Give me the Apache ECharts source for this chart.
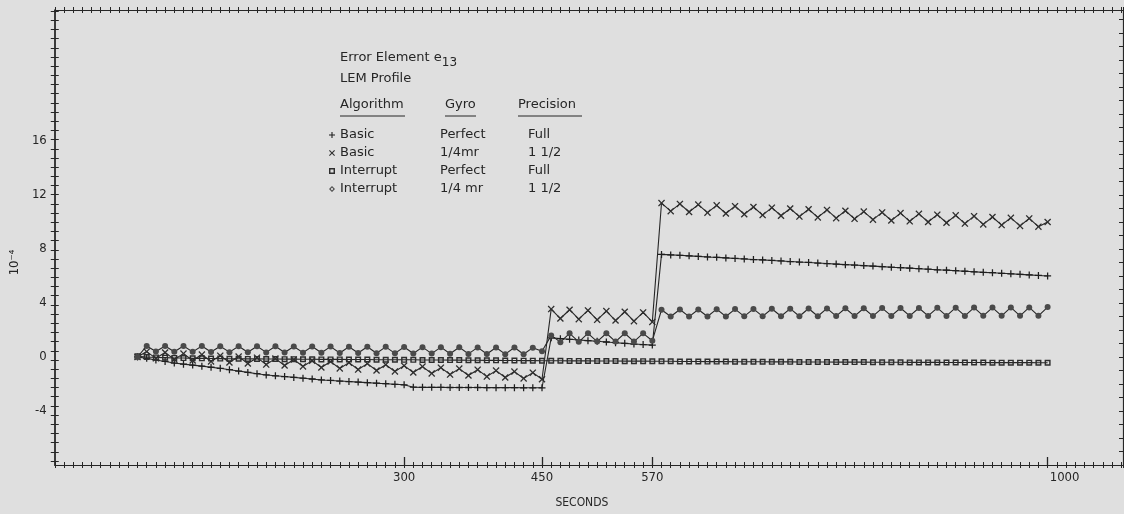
<!DOCTYPE html>
<html>
<head>
<meta charset="utf-8">
<title>Error Element e13 - LEM Profile</title>
<script src="https://cdn.jsdelivr.net/npm/echarts@6/dist/echarts.min.js"></script>
<style>
  html, body { margin: 0; padding: 0; background: #dfdfdf; }
  #chart { width: 1124px; height: 514px; }
</style>
</head>
<body>
<div id="chart"></div>
<script>
// sample times, seconds
let seconds = [
  10, 20, 30, 40, 50, 60, 70, 80, 90, 100,
  110, 120, 130, 140, 150, 160, 170, 180, 190, 200,
  210, 220, 230, 240, 250, 260, 270, 280, 290, 300,
  310, 320, 330, 340, 350, 360, 370, 380, 390, 400,
  410, 420, 430, 440, 450, 460, 470, 480, 490, 500,
  510, 520, 530, 540, 550, 560, 570, 580, 590, 600,
  610, 620, 630, 640, 650, 660, 670, 680, 690, 700,
  710, 720, 730, 740, 750, 760, 770, 780, 790, 800,
  810, 820, 830, 840, 850, 860, 870, 880, 890, 900,
  910, 920, 930, 940, 950, 960, 970, 980, 990, 1000
];

// error element e13, units of 10^-4
let basicPerfect = [
  0.00, -0.10, -0.22, -0.33, -0.45, -0.53, -0.60, -0.68, -0.76, -0.84,
  -0.94, -1.04, -1.14, -1.24, -1.33, -1.39, -1.45, -1.51, -1.57, -1.63,
  -1.70, -1.74, -1.78, -1.82, -1.86, -1.90, -1.94, -1.98, -2.02, -2.06,
  -2.24, -2.25, -2.25, -2.25, -2.26, -2.26, -2.26, -2.26, -2.27, -2.27,
  -2.27, -2.27, -2.28, -2.28, -2.28, 1.42, 1.36, 1.31, 1.26, 1.21,
  1.16, 1.11, 1.06, 1.01, 0.96, 0.92, 0.88, 7.60, 7.56, 7.53,
  7.49, 7.45, 7.41, 7.38, 7.34, 7.30, 7.26, 7.22, 7.19, 7.15,
  7.11, 7.07, 7.03, 7.00, 6.96, 6.92, 6.88, 6.84, 6.81, 6.77,
  6.73, 6.69, 6.65, 6.62, 6.58, 6.54, 6.50, 6.46, 6.43, 6.39,
  6.35, 6.31, 6.27, 6.24, 6.20, 6.16, 6.12, 6.08, 6.04, 6.00
];
let basicQuarter = [
  0.00, 0.40, -0.10, 0.33, -0.18, 0.25, -0.26, 0.18, -0.33, 0.10,
  -0.41, 0.03, -0.48, -0.05, -0.56, -0.12, -0.63, -0.19, -0.70, -0.27,
  -0.78, -0.34, -0.85, -0.42, -0.93, -0.49, -1.00, -0.57, -1.07, -0.64,
  -1.15, -0.71, -1.22, -0.79, -1.30, -0.86, -1.37, -0.94, -1.45, -1.01,
  -1.52, -1.08, -1.59, -1.16, -1.65, 3.55, 2.85, 3.50, 2.80, 3.45,
  2.75, 3.40, 2.70, 3.35, 2.65, 3.30, 2.60, 11.40, 10.80, 11.34,
  10.74, 11.29, 10.69, 11.23, 10.63, 11.17, 10.57, 11.11, 10.51, 11.06,
  10.46, 11.00, 10.40, 10.94, 10.34, 10.89, 10.28, 10.83, 10.23, 10.77,
  10.17, 10.71, 10.11, 10.66, 10.05, 10.60, 10.00, 10.54, 9.94, 10.49,
  9.88, 10.43, 9.82, 10.37, 9.77, 10.31, 9.71, 10.26, 9.65, 10.00
];
let interruptPerfect = [
  0.05, 0.00, -0.03, -0.05, -0.07, -0.08, -0.10, -0.10, -0.11, -0.12,
  -0.13, -0.13, -0.14, -0.14, -0.15, -0.15, -0.16, -0.16, -0.17, -0.17,
  -0.18, -0.18, -0.18, -0.19, -0.19, -0.19, -0.20, -0.20, -0.20, -0.21,
  -0.21, -0.22, -0.22, -0.22, -0.23, -0.23, -0.24, -0.24, -0.25, -0.25,
  -0.26, -0.26, -0.27, -0.27, -0.28, -0.28, -0.28, -0.29, -0.29, -0.29,
  -0.30, -0.30, -0.30, -0.31, -0.31, -0.31, -0.32, -0.32, -0.32, -0.33,
  -0.33, -0.33, -0.34, -0.34, -0.34, -0.35, -0.35, -0.35, -0.35, -0.36,
  -0.36, -0.36, -0.37, -0.37, -0.37, -0.37, -0.38, -0.38, -0.38, -0.38,
  -0.39, -0.39, -0.39, -0.39, -0.40, -0.40, -0.40, -0.40, -0.41, -0.41,
  -0.41, -0.41, -0.41, -0.42, -0.42, -0.42, -0.42, -0.42, -0.43, -0.43
];
let interruptQuarter = [
  0.00, 0.82, 0.40, 0.82, 0.39, 0.81, 0.38, 0.81, 0.37, 0.80,
  0.36, 0.80, 0.35, 0.79, 0.34, 0.79, 0.33, 0.78, 0.32, 0.78,
  0.31, 0.77, 0.30, 0.76, 0.29, 0.76, 0.28, 0.75, 0.27, 0.74,
  0.26, 0.73, 0.25, 0.73, 0.24, 0.72, 0.23, 0.71, 0.22, 0.70,
  0.21, 0.70, 0.20, 0.69, 0.42, 1.60, 1.10, 1.75, 1.12, 1.75,
  1.14, 1.76, 1.14, 1.76, 1.14, 1.75, 1.20, 3.50, 3.00, 3.52,
  2.99, 3.52, 3.00, 3.54, 3.00, 3.55, 3.01, 3.56, 3.01, 3.57,
  3.02, 3.58, 3.02, 3.59, 3.02, 3.60, 3.03, 3.61, 3.03, 3.61,
  3.03, 3.62, 3.04, 3.63, 3.04, 3.63, 3.04, 3.64, 3.04, 3.65,
  3.04, 3.66, 3.05, 3.66, 3.05, 3.67, 3.05, 3.67, 3.05, 3.70
];

let xLabels = [300, 450, 570, 1000];
let yLabels = [-4, 0, 4, 8, 12, 16];

let algorithms = ['Basic', 'Basic', 'Interrupt', 'Interrupt'];
let gyros = ['Perfect', '1/4mr', 'Perfect', '1/4 mr'];
let precisions = ['Full', '1 1/2', 'Full', '1 1/2'];

let INK = '#262626';
let FONT = 'DejaVu Sans';
let FONT_C = 'DejaVu Sans Condensed';

let PLUS = 'path://M4.1,0H5.9V10H4.1Z M0,4.1H10V5.9H0Z';
let CROSS = 'path://M1.3,0L5,3.7L8.7,0L10,1.3L6.3,5L10,8.7L8.7,10L5,6.3L1.3,10L0,8.7L3.7,5L0,1.3Z';
let SQUARE = 'path://M0,0H10V10H0Z M2.4,2.4V7.6H7.6V2.4Z';
let DIAMOND = 'path://M5,0L10,5L5,10L0,5Z M5,2.6L2.6,5L5,7.4L7.4,5Z';

let names = algorithms.map((a, i) => a + ' / ' + gyros[i] + ' / ' + precisions[i]);
let values = [basicPerfect, basicQuarter, interruptPerfect, interruptQuarter];
let symbols = [PLUS, CROSS, SQUARE, 'circle'];
let symbolSizes = [7, 7, 6, 6];
let markerColors = ['#1e1e1e', '#2e2e2e', '#2e2e2e', '#4a4a4a'];
let legendIcons = [PLUS, CROSS, SQUARE, DIAMOND];

let X_MIN = -80, X_MAX = 1082;
let Y_MIN = -8, Y_MAX = 25.7;

// plotter frame ticks
let leftTicks = [];
for (let v = -7.7; v <= Y_MAX; v += 0.68) leftTicks.push(Math.round(v * 100) / 100);

let chart = echarts.init(document.getElementById('chart'));

function frameAxis(base, extra) {
  let axis = Object.assign({
    type: 'value',
    axisLine: { show: false },
    axisTick: { show: false },
    axisLabel: { show: false },
    splitLine: { show: false }
  }, base, extra);
  axis.axisLine = Object.assign({ onZero: false }, axis.axisLine);
  return axis;
}
function frameX(extra) {
  return frameAxis({ min: X_MIN, max: X_MAX, interval: 10 }, extra);
}
function frameY(extra) {
  return frameAxis({ min: Y_MIN, max: Y_MAX }, extra);
}

let option = {
  backgroundColor: '#dfdfdf',
  animation: false,
  textStyle: { fontFamily: FONT, color: INK },
  title: [
    {
      text: 'Error Element e{sub|13}', left: 340, top: 46, padding: 0,
      textStyle: {
        fontFamily: FONT, fontSize: 13, fontWeight: 'normal', color: INK,
        rich: { sub: { fontFamily: FONT, fontSize: 12, color: INK, padding: [11, 0, 0, 0] } }
      }
    },
    { text: 'LEM Profile', left: 340, top: 72, padding: 0,
      textStyle: { fontFamily: FONT, fontSize: 13, fontWeight: 'normal', color: INK } },
    { text: 'Algorithm', left: 340, top: 98, padding: 0,
      textStyle: { fontFamily: FONT, fontSize: 13, fontWeight: 'normal', color: INK } },
    { text: 'Gyro', left: 445, top: 98, padding: 0,
      textStyle: { fontFamily: FONT, fontSize: 13, fontWeight: 'normal', color: INK } },
    { text: 'Precision', left: 518, top: 98, padding: 0,
      textStyle: { fontFamily: FONT, fontSize: 13, fontWeight: 'normal', color: INK } }
  ],
  graphic: [
    { type: 'line', shape: { x1: 340, y1: 116, x2: 405, y2: 116 }, style: { stroke: INK, lineWidth: 1 } },
    { type: 'line', shape: { x1: 445, y1: 116, x2: 476, y2: 116 }, style: { stroke: INK, lineWidth: 1 } },
    { type: 'line', shape: { x1: 518, y1: 116, x2: 582, y2: 116 }, style: { stroke: INK, lineWidth: 1 } }
  ],
  legend: {
    orient: 'vertical', left: 324, top: 121, padding: 5,
    itemWidth: 6, itemHeight: 6, itemGap: 0,
    selectedMode: false,
    data: names.map((n, i) => ({ name: n, icon: legendIcons[i] })),
    formatter: function (name) {
      let i = names.indexOf(name);
      return '{a|' + algorithms[i] + '}{b|' + gyros[i] + '}{c|' + precisions[i] + '}';
    },
    textStyle: {
      fontFamily: FONT, fontSize: 13, color: INK, lineHeight: 18,
      rich: {
        a: { width: 100, fontFamily: FONT, fontSize: 13, lineHeight: 18 },
        b: { width: 88, fontFamily: FONT, fontSize: 13, lineHeight: 18 },
        c: { fontFamily: FONT, fontSize: 13, lineHeight: 18 }
      }
    }
  },
  grid: { left: 54, right: 1, top: 10, bottom: 49 },
  xAxis: [
    frameX({
      position: 'bottom',
      axisLine: { show: true, lineStyle: { color: INK, width: 1.2 } },
      axisTick: { show: true, inside: false, length: 3, lineStyle: { color: INK } },
      axisLabel: {
        show: true, customValues: xLabels, margin: 6, fontFamily: FONT_C, fontSize: 13, color: INK,
        formatter: v => (v === 1000 ? '{r|1000}' : String(v)),
        rich: { r: { fontFamily: FONT_C, fontSize: 13, color: INK, padding: [0, 0, 0, 34] } }
      },
      name: 'SECONDS', nameLocation: 'middle', nameGap: 32,
      nameTextStyle: { fontFamily: FONT_C, fontSize: 12, color: INK, padding: [0, 14, 0, 0] }
    }),
    frameX({ position: 'bottom', axisTick: { show: true, inside: true, length: 3, lineStyle: { color: INK } } }),
    frameX({ position: 'bottom', axisTick: { show: true, inside: true, length: 8, customValues: xLabels, lineStyle: { color: INK, width: 1.3 } } }),
    frameX({
      position: 'top',
      axisLine: { show: true, lineStyle: { color: INK, width: 1.2 } },
      axisTick: { show: true, inside: false, length: 3, lineStyle: { color: INK } }
    }),
    frameX({ position: 'top', axisTick: { show: true, inside: true, length: 3, lineStyle: { color: INK } } })
  ],
  yAxis: [
    frameY({
      position: 'left',
      axisLine: { show: true, lineStyle: { color: '#111', width: 1.6 } },
      axisTick: { show: true, inside: false, length: 4, customValues: leftTicks, lineStyle: { color: INK } },
      axisLabel: { show: true, customValues: yLabels, margin: 8, fontFamily: FONT_C, fontSize: 13, color: INK },
      name: '10⁻⁴', nameLocation: 'middle', nameGap: 28, nameRotate: 90,
      nameTextStyle: { fontFamily: FONT_C, fontSize: 13, color: INK, padding: [0, 50, 0, 0] }
    }),
    frameY({ position: 'left', axisTick: { show: true, inside: true, length: 4, customValues: leftTicks, lineStyle: { color: INK } } }),
    frameY({
      position: 'right', interval: 1,
      axisLine: { show: true, lineStyle: { color: INK, width: 1.2 } },
      axisTick: { show: true, inside: true, length: 4, lineStyle: { color: INK } }
    })
  ],
  series: names.map((n, i) => ({
    name: n,
    type: 'line',
    xAxisIndex: 0,
    yAxisIndex: 0,
    data: seconds.map((t, k) => [t, values[i][k]]),
    symbol: symbols[i],
    symbolSize: symbolSizes[i],
    showSymbol: true,
    showAllSymbol: true,
    lineStyle: { color: INK, width: 1.1 },
    itemStyle: { color: markerColors[i] },
    emphasis: { disabled: true }
  }))
};

chart.setOption(option);
</script>
</body>
</html>
